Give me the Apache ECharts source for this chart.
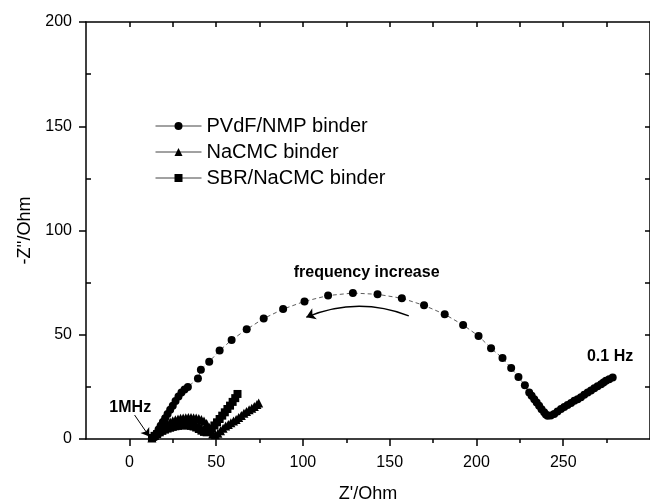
<!DOCTYPE html>
<html><head><meta charset="utf-8">
<script src="https://cdn.jsdelivr.net/npm/echarts@6/dist/echarts.min.js"></script>
<style>html,body{margin:0;padding:0;background:#fff}#c{width:650px;height:504px}</style>
</head><body><div id="c"></div>
<script>
const seriesNames = ['PVdF/NMP binder', 'NaCMC binder', 'SBR/NaCMC binder'];
const pvdf = [
 [14.5,0.8],[15.5,2.5],[16.8,4.5],[18,6.3],[19.3,8.2],[20.6,10],[22,12],[23.5,14],[25,16],[26.6,18.2],[28.3,20.4],[30,22.3],[31.8,23.8],[33.7,25],
 [39.5,29],[41.2,33.2],[46,37.1],[52,42.4],[58.9,47.5],[67.6,52.6],[77.4,57.8],[88.6,62.3],[100.9,66],[114.5,68.8],[128.8,70],
 [143,69.4],[157,67.5],[169.8,64.1],[181.7,59.8],[192.3,54.7],[201.2,49.4],[208.4,43.5],[215,38.8],[220,34],[224.2,29.7],[227.9,25.8],
 [230.4,22.3],[231.8,20.7],[233.3,19.1],[234.7,17.5],[236.1,15.9],[237.5,14.3],[239,12.8],[240,11.8],[241,11.1],[242.8,11.3],[244.8,12],
 [246.7,13.2],[248.7,14.4],[250.6,15.4],[252.5,16.3],[254.5,17.3],[256.4,18.3],[258.3,19.1],[260.2,20],[262.1,21.2],[264.1,22.3],[266,23.3],
 [267.9,24.3],[269.8,25.3],[271.8,26.3],[273.2,27.1],[274.6,27.9],[276.5,28.7],[278.5,29.5]
];
const nacmc = [
 [13,0.5],[14.5,1.8],[16,3.2],[17.5,4.4],[19,5.5],[20.5,6.5],[22,7.3],[23.5,8.1],[25,8.7],[26.5,9.2],[28,9.6],[29.5,9.9],[31,10.1],[32.5,10.2],
 [34,10.3],[35.5,10.3],[37,10.2],[38.5,10.1],[40,9.8],[41.5,9.4],[43,8.6],[44.5,7.4],[46,5.6],[47,3.8],[48,2.4],[49.5,2],[51,2.8],[52.5,4],
 [54,5.2],[55.5,6.2],[57,7],[58.5,7.8],[60,8.6],[61.5,9.4],[63,10.3],[64.5,11.3],[66,12.3],[67.5,13.2],[69,14],[70.5,14.8],[72,15.6],[73.5,16.5],[74.5,17.3]
];
const sbr = [
 [13,0.5],[14.5,1.5],[16,2.4],[17.5,3.2],[19,3.9],[20.5,4.5],[22,5],[23.5,5.4],[25,5.8],[26.5,6.1],[28,6.3],[29.5,6.5],[31,6.6],[32.5,6.6],
 [34,6.5],[35.5,6.3],[37,6],[38.5,5.5],[40,4.8],[41.5,4],[43,3.4],[44.5,3.2],[46,3.8],[47.5,5],[49,6.5],[50.5,8],[52,9.6],[53.5,11.2],
 [55,12.8],[56.5,14.4],[58,16],[59.5,17.8],[61,19.6],[62.3,21.6]
];
const xLabelTicks = [0, 50, 100, 150, 200, 250];
const xMinorTicks = [25, 75, 125, 175, 225, 275];
const xAllTicks = [0, 25, 50, 75, 100, 125, 150, 175, 200, 225, 250, 275];
const yLabelTicks = [0, 50, 100, 150, 200];
const yMinorTicks = [25, 75, 125, 175];
const yAllTicks = [25, 50, 75, 100, 125, 150, 175];
// annotation anchors (data coordinates)
const freqArrow = [[161, 59.1], [101.9, 58.4]];
const mhzArrow = [[3, 11.5], [11.5, 1.2]];

const FONT = 'Liberation Sans, Arial, sans-serif';
const chart = echarts.init(document.getElementById('c'), null, {renderer: 'canvas'});
const axisLineStyle = {color: '#000', width: 1.5};
const baseX = {type: 'value', min: -25, max: 300, splitLine: {show: false}, gridIndex: 0};
const baseY = {type: 'value', min: 0, max: 200, splitLine: {show: false}, gridIndex: 0};

chart.setOption({
  animation: false,
  backgroundColor: '#fff',
  grid: {left: 86, right: 0, top: 22, bottom: 65, containLabel: false, outerBoundsMode: 'none'},
  legend: {
    left: 150, top: 111, orient: 'vertical', itemGap: 6, itemWidth: 46, itemHeight: 10,
    data: seriesNames,
    textStyle: {fontSize: 20, color: '#000', fontFamily: FONT},
    lineStyle: {type: 'solid', width: 1, color: '#444'}
  },
  xAxis: [
    Object.assign({}, baseX, {
      position: 'bottom',
      axisLine: {show: true, onZero: false, lineStyle: axisLineStyle},
      axisTick: {show: true, customValues: xLabelTicks, length: 7, lineStyle: axisLineStyle},
      axisLabel: {customValues: xLabelTicks, fontSize: 16, color: '#000', margin: 16, fontFamily: FONT},
      name: "Z'/Ohm", nameLocation: 'middle', nameGap: 46,
      nameTextStyle: {fontSize: 18, color: '#000', fontFamily: FONT}
    }),
    Object.assign({}, baseX, {
      position: 'bottom',
      axisLine: {show: false, onZero: false},
      axisTick: {show: true, customValues: xMinorTicks, length: 4, lineStyle: axisLineStyle},
      axisLabel: {show: false}
    }),
    Object.assign({}, baseX, {
      position: 'top',
      axisLine: {show: true, onZero: false, lineStyle: axisLineStyle},
      axisTick: {show: true, inside: true, customValues: xAllTicks, length: 5, lineStyle: axisLineStyle},
      axisLabel: {show: false}
    })
  ],
  yAxis: [
    Object.assign({}, baseY, {
      position: 'left',
      axisLine: {show: true, onZero: false, lineStyle: axisLineStyle},
      axisTick: {show: true, customValues: yLabelTicks, length: 7, lineStyle: axisLineStyle},
      axisLabel: {customValues: yLabelTicks, fontSize: 16, color: '#000', margin: 14, fontFamily: FONT},
      name: "-Z''/Ohm", nameLocation: 'middle', nameGap: 52, nameRotate: 90,
      nameTextStyle: {fontSize: 18, color: '#000', fontFamily: FONT}
    }),
    Object.assign({}, baseY, {
      position: 'left',
      axisLine: {show: false, onZero: false},
      axisTick: {show: true, inside: true, customValues: yMinorTicks, length: 5, lineStyle: axisLineStyle},
      axisLabel: {show: false}
    }),
    Object.assign({}, baseY, {
      position: 'right',
      axisLine: {show: true, onZero: false, lineStyle: axisLineStyle},
      axisTick: {show: true, inside: true, customValues: yAllTicks, length: 5, lineStyle: axisLineStyle},
      axisLabel: {show: false}
    })
  ],
  series: [
    {
      name: seriesNames[0], type: 'line', data: pvdf, xAxisIndex: 0, yAxisIndex: 0,
      symbol: 'circle', symbolSize: 8, itemStyle: {color: '#000'},
      lineStyle: {color: '#333', width: 0.8, type: [4, 3]},
      markPoint: {
        silent: true, symbol: 'circle', symbolSize: 0,
        label: {show: true, position: 'inside', color: '#000', fontWeight: 'bold', fontSize: 16, fontFamily: FONT},
        data: [
          {coord: [0.5, 15.3], label: {formatter: '1MHz'}},
          {coord: [136.7, 80], label: {formatter: 'frequency increase'}},
          {coord: [277, 39.5], label: {formatter: '0.1 Hz'}}
        ]
      }
    },
    {
      name: seriesNames[1], type: 'line', data: nacmc, xAxisIndex: 0, yAxisIndex: 0,
      symbol: 'triangle', symbolSize: 9, itemStyle: {color: '#000'},
      lineStyle: {color: '#000', width: 1}
    },
    {
      name: seriesNames[2], type: 'line', data: sbr, xAxisIndex: 0, yAxisIndex: 0,
      symbol: 'rect', symbolSize: 8, itemStyle: {color: '#000'},
      lineStyle: {color: '#000', width: 1}
    },
    {
      type: 'lines', coordinateSystem: 'cartesian2d', xAxisIndex: 0, yAxisIndex: 0,
      silent: true, symbol: ['none', 'arrow'], symbolSize: 9,
      lineStyle: {color: '#000', width: 1.3, curveness: -0.2, opacity: 1},
      data: [{coords: freqArrow}]
    },
    {
      type: 'lines', coordinateSystem: 'cartesian2d', xAxisIndex: 0, yAxisIndex: 0,
      silent: true, symbol: ['none', 'arrow'], symbolSize: 8,
      lineStyle: {color: '#000', width: 1, curveness: 0, opacity: 1},
      data: [{coords: mhzArrow}]
    }
  ]
});
</script></body></html>
